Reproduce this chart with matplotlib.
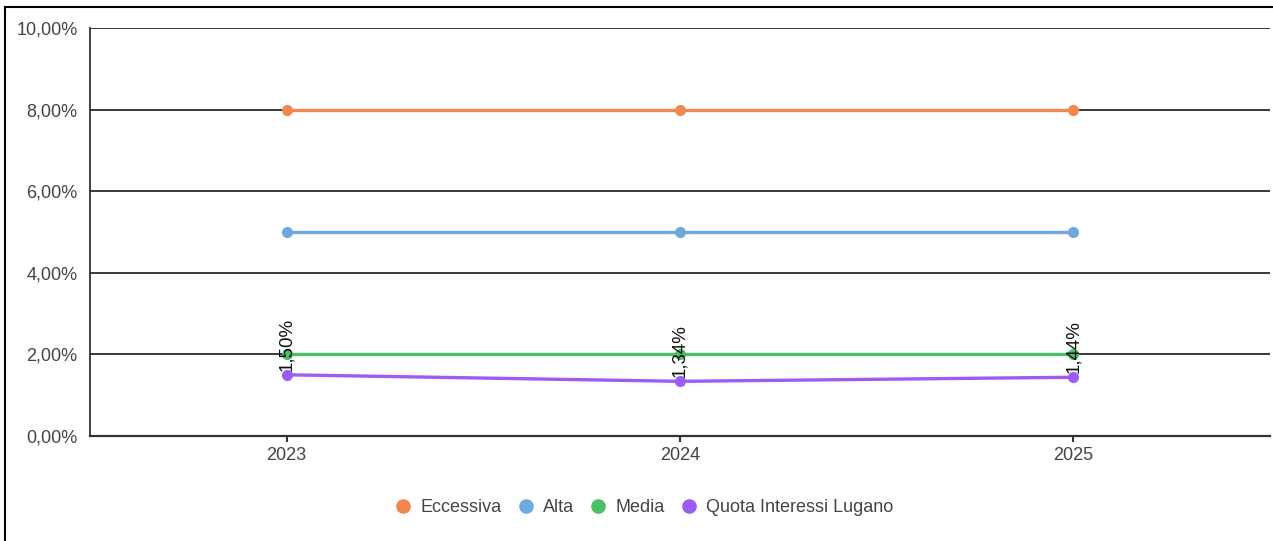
import matplotlib
matplotlib.use("Agg")
import matplotlib.pyplot as plt
from matplotlib.lines import Line2D
from matplotlib.ticker import FuncFormatter

plt.rcParams['font.family'] = ['Liberation Sans', 'DejaVu Sans']

years = ["2023", "2024", "2025"]
eccessiva = [8.0, 8.0, 8.0]
alta = [5.0, 5.0, 5.0]
media = [2.0, 2.0, 2.0]
quota = [1.50, 1.34, 1.44]
quota_labels = ["1,50%", "1,34%", "1,44%"]

series = [
    ("Eccessiva", eccessiva, "#F0874F"),
    ("Alta", alta, "#6FA8DC"),
    ("Media", media, "#4CC068"),
    ("Quota Interessi Lugano", quota, "#9C5CF6"),
]

W, H = 1273, 541
fig = plt.figure(figsize=(W / 100, H / 100), dpi=100)
ax = fig.add_axes([90 / W, (H - 436) / H, (1270 - 90) / W, (436 - 28) / H])

x = list(range(len(years)))
for name, vals, col in series:
    ax.plot(x, vals, color=col, lw=2.4, marker='o', ms=7, label=name, zorder=3,
            solid_capstyle='butt')

for xi, v, lab in zip(x, quota, quota_labels):
    ax.annotate(lab, (xi, v), xytext=(0, 3), textcoords='offset points',
                rotation=90, ha='center', va='bottom', fontsize=13.5,
                color='#111111', zorder=4)

ax.set_xlim(-0.5, len(years) - 0.5)
ax.set_ylim(0, 10)
ax.set_yticks([0, 2, 4, 6, 8, 10])
ax.yaxis.set_major_formatter(FuncFormatter(lambda v, p: f"{v:.2f}%".replace('.', ',')))
ax.set_xticks(x)
ax.set_xticklabels(years)
ax.grid(axis='y', color='#2a2a2a', lw=1.3, zorder=1)
for s in ['top', 'right']:
    ax.spines[s].set_visible(False)
ax.spines['left'].set_color('#333333')
ax.spines['bottom'].set_color('#333333')
ax.spines['left'].set_linewidth(1.3)
ax.spines['bottom'].set_linewidth(1.6)
ax.tick_params(axis='y', length=0, pad=9, labelsize=13, labelcolor='#444444')
ax.tick_params(axis='x', length=4, width=1.5, color='#333333', pad=4,
               labelsize=13, labelcolor='#444444')

handles = [Line2D([], [], ls='', marker='o', ms=9.5, color=c, label=n) for n, _, c in series]
fig.legend(handles=handles, loc='center', bbox_to_anchor=(643 / W, (H - 508) / H),
           ncol=4, frameon=False, fontsize=13, handletextpad=0.35, columnspacing=0.75,
           handlelength=1.2, labelcolor='#444444')

# screenshot frame
fig.add_artist(Line2D([5 / W, 5 / W], [0, (H - 7) / H], color='black', lw=1.5, transform=fig.transFigure))
fig.add_artist(Line2D([5 / W, 1], [(H - 7) / H, (H - 7) / H], color='black', lw=1.5, transform=fig.transFigure))

fig.savefig("out.png", dpi=100)
